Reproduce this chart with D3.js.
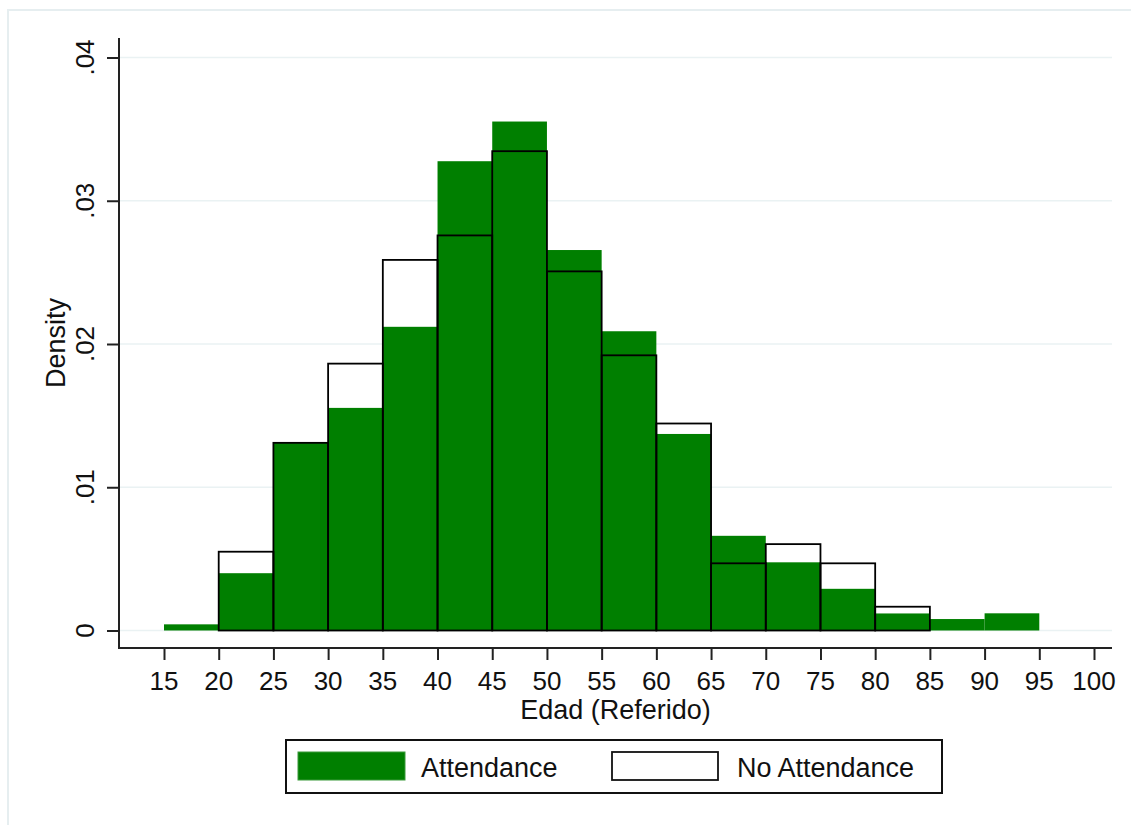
<!DOCTYPE html>
<html>
<head>
<meta charset="utf-8">
<script src="https://cdn.jsdelivr.net/npm/d3@7"></script>
<style>
  html, body { margin: 0; padding: 0; background: #fff; }
  svg { display: block; }
  text { font-family: "Liberation Sans", Arial, sans-serif; fill: #111; }
</style>
</head>
<body>
<svg id="chart" width="1131" height="825"></svg>
<script>
// ---- Data ----
const binStarts = [15, 20, 25, 30, 35, 40, 45, 50, 55, 60, 65, 70, 75, 80, 85, 90];
const binWidth = 5;
const attendance = [0.00043, 0.0040, 0.0131, 0.01554, 0.0212, 0.03276, 0.03553, 0.02656, 0.02089, 0.01372, 0.00661, 0.00476, 0.00291, 0.00119, 0.0008, 0.0012];
const noAttendanceStarts = [20, 25, 30, 35, 40, 45, 50, 55, 60, 65, 70, 75, 80];
const noAttendance = [0.0055, 0.0131, 0.01863, 0.02587, 0.02758, 0.03346, 0.02507, 0.01921, 0.01445, 0.00469, 0.00603, 0.00469, 0.00166];
const xTicks = [15, 20, 25, 30, 35, 40, 45, 50, 55, 60, 65, 70, 75, 80, 85, 90, 95, 100];
const yTicks = [0, 0.01, 0.02, 0.03, 0.04];
const yTickLabels = ["0", ".01", ".02", ".03", ".04"];
const seriesNames = ["Attendance", "No Attendance"];
const xTitle = "Edad (Referido)";
const yTitle = "Density";

const GREEN = "#007f00";
const svg = d3.select("#chart");

// Outer graph-region frame (cropped at right/bottom)
svg.append("path")
  .attr("d", "M8,825 L8,10 L1131,10")
  .attr("fill", "none").attr("stroke", "#e6eef0").attr("stroke-width", 2);

const x = d3.scaleLinear().domain([15, 100]).range([164, 1094]);
const y = d3.scaleLinear().domain([0, 0.04]).range([630.5, 57.5]);
const axisLeftX = 119, axisRightX = 1112, axisBottomY = 648, axisTopY = 38;

// Gridlines
svg.append("g").selectAll("line").data(yTicks).join("line")
  .attr("x1", axisLeftX).attr("x2", axisRightX)
  .attr("y1", d => y(d)).attr("y2", d => y(d))
  .attr("stroke", "#eaf2f3").attr("stroke-width", 1.6);

// Attendance bars (green)
svg.append("g").selectAll("rect").data(binStarts.map((s, i) => ({s, v: attendance[i]}))).join("rect")
  .attr("x", d => x(d.s)).attr("width", d => x(d.s + binWidth) - x(d.s))
  .attr("y", d => y(d.v)).attr("height", d => y(0) - y(d.v))
  .attr("fill", GREEN);

// No Attendance bars (outline only)
svg.append("g").selectAll("rect").data(noAttendanceStarts.map((s, i) => ({s, v: noAttendance[i]}))).join("rect")
  .attr("x", d => x(d.s)).attr("width", d => x(d.s + binWidth) - x(d.s))
  .attr("y", d => y(d.v)).attr("height", d => y(0) - y(d.v))
  .attr("fill", "none").attr("stroke", "#000").attr("stroke-width", 1.8);

// Y axis
const yAxis = d3.axisLeft(y).tickValues(yTicks).tickSize(12).tickFormat("");
const gy = svg.append("g").attr("transform", `translate(${axisLeftX},0)`).call(yAxis);
gy.select(".domain").remove();
gy.selectAll(".tick line").attr("stroke", "#222").attr("stroke-width", 2);
svg.append("line").attr("x1", axisLeftX).attr("x2", axisLeftX)
  .attr("y1", axisTopY).attr("y2", axisBottomY + 1)
  .attr("stroke", "#222").attr("stroke-width", 2);
svg.append("g").selectAll("text").data(yTicks).join("text")
  .attr("transform", (d) => `translate(94,${y(d)}) rotate(-90)`)
  .attr("text-anchor", "middle").attr("font-size", 26)
  .text((d, i) => yTickLabels[i]);

// X axis
const xAxis = d3.axisBottom(x).tickValues(xTicks).tickSize(12).tickFormat("");
const gx = svg.append("g").attr("transform", `translate(0,${axisBottomY})`).call(xAxis);
gx.select(".domain").remove();
gx.selectAll(".tick line").attr("stroke", "#222").attr("stroke-width", 2);
svg.append("line").attr("x1", axisLeftX - 1).attr("x2", axisRightX)
  .attr("y1", axisBottomY).attr("y2", axisBottomY)
  .attr("stroke", "#222").attr("stroke-width", 2);
svg.append("g").selectAll("text").data(xTicks).join("text")
  .attr("x", d => x(d)).attr("y", 690)
  .attr("text-anchor", "middle").attr("font-size", 26)
  .text(d => d);

// Axis titles
svg.append("text").attr("x", (axisLeftX + axisRightX) / 2).attr("y", 719)
  .attr("text-anchor", "middle").attr("font-size", 27).text(xTitle);
svg.append("text").attr("transform", "translate(65,343) rotate(-90)")
  .attr("text-anchor", "middle").attr("font-size", 27).text(yTitle);

// Legend
const lg = svg.append("g");
lg.append("rect").attr("x", 286).attr("y", 740).attr("width", 656).attr("height", 53)
  .attr("fill", "#fff").attr("stroke", "#111").attr("stroke-width", 2);
lg.append("rect").attr("x", 298).attr("y", 752).attr("width", 107).attr("height", 28)
  .attr("fill", GREEN).attr("stroke", "#3a9a3a").attr("stroke-width", 1);
lg.append("text").attr("x", 421).attr("y", 777).attr("font-size", 27).text(seriesNames[0]);
lg.append("rect").attr("x", 612).attr("y", 752).attr("width", 106).attr("height", 28)
  .attr("fill", "#fff").attr("stroke", "#111").attr("stroke-width", 1.8);
lg.append("text").attr("x", 737).attr("y", 777).attr("font-size", 27).text(seriesNames[1]);
</script>
</body>
</html>
